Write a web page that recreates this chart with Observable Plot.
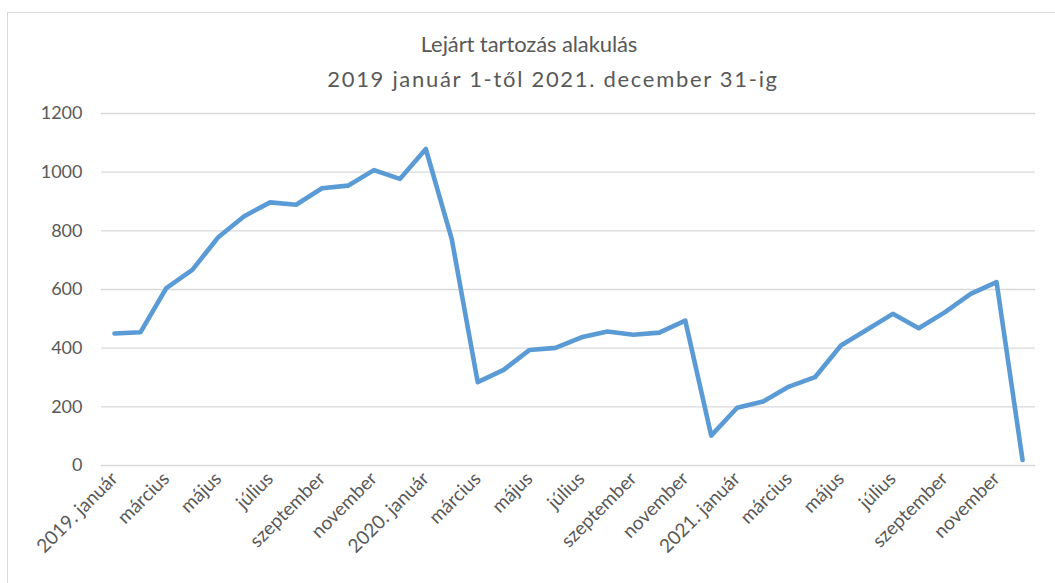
<!DOCTYPE html>
<html>
<head>
<meta charset="utf-8">
<script src="https://cdn.jsdelivr.net/npm/d3@7"></script>
<script src="https://cdn.jsdelivr.net/npm/@observablehq/plot@0.6"></script>
<style>
  html, body { margin: 0; padding: 0; background: #fff; }
  #wrap { position: relative; width: 1055px; height: 583px; overflow: hidden; font-family: Lato, sans-serif; }
  #frame { position: absolute; left: 7px; top: 12px; width: 1100px; height: 700px; border-top: 1px solid #d9d9d9; border-left: 1px solid #d9d9d9; }
  .t { position: absolute; left: 0; text-align: center; color: #595959; line-height: 22px; white-space: nowrap; }
  #t1 { top: 33px; width: 1058px; font-size: 22px; letter-spacing: -0.1px; }
  #t2 { top: 68px; width: 1106px; font-size: 22px; letter-spacing: 1.7px; }
  #chart { position: absolute; left: 0; top: 100px; }
</style>
</head>
<body>
<div id="wrap">
  <div id="frame"></div>
  <div class="t" id="t1">Lejárt tartozás alakulás</div>
  <div class="t" id="t2">2019 január 1-től 2021. december 31-ig</div>
  <div id="chart"></div>
</div>
<script>
const months = [
  "2019. január","február","március","április","május","június","július","augusztus","szeptember","október","november","december",
  "2020. január","február","március","április","május","június","július","augusztus","szeptember","október","november","december",
  "2021. január","február","március","április","május","június","július","augusztus","szeptember","október","november","december"
];
const values = [
  450, 454, 605, 667, 778, 850, 897, 889, 945, 954, 1007, 977,
  1079, 772, 284, 326, 394, 401, 437, 457, 446, 453, 494, 102,
  197, 218, 269, 301, 409, 463, 517, 468, 522, 585, 625, 19
];
const yTicks = [0, 200, 400, 600, 800, 1000, 1200];

const data = values.map((v, i) => ({i, month: months[i], v}));
const xTicks = d3.range(0, months.length, 2);

const chart = Plot.plot({
  width: 1055,
  height: 483,
  marginTop: 13,
  marginBottom: 118,
  marginLeft: 101,
  marginRight: 20,
  style: {fontFamily: "Lato, sans-serif", fontSize: "18px", color: "#595959", background: "transparent", overflow: "visible"},
  x: {type: "point", domain: d3.range(months.length), padding: 0.5, axis: null},
  y: {domain: [0, 1200], axis: null},
  marks: [
    Plot.ruleY(yTicks, {stroke: "#d9d9d9", strokeWidth: 1.3}),
    Plot.axisY({ticks: yTicks, tickFormat: d => String(d), tickSize: 0, tickPadding: 19, fontSize: 18, label: null}),
    Plot.axisX({ticks: xTicks, tickFormat: i => months[i], tickRotate: -45, tickSize: 0, tickPadding: 10, fontSize: 19, label: null}),
    Plot.line(data, {x: "i", y: "v", stroke: "#5B9BD5", strokeWidth: 4.6, strokeLinejoin: "round", strokeLinecap: "round"})
  ]
});
document.getElementById("chart").appendChild(chart);
</script>
</body>
</html>
